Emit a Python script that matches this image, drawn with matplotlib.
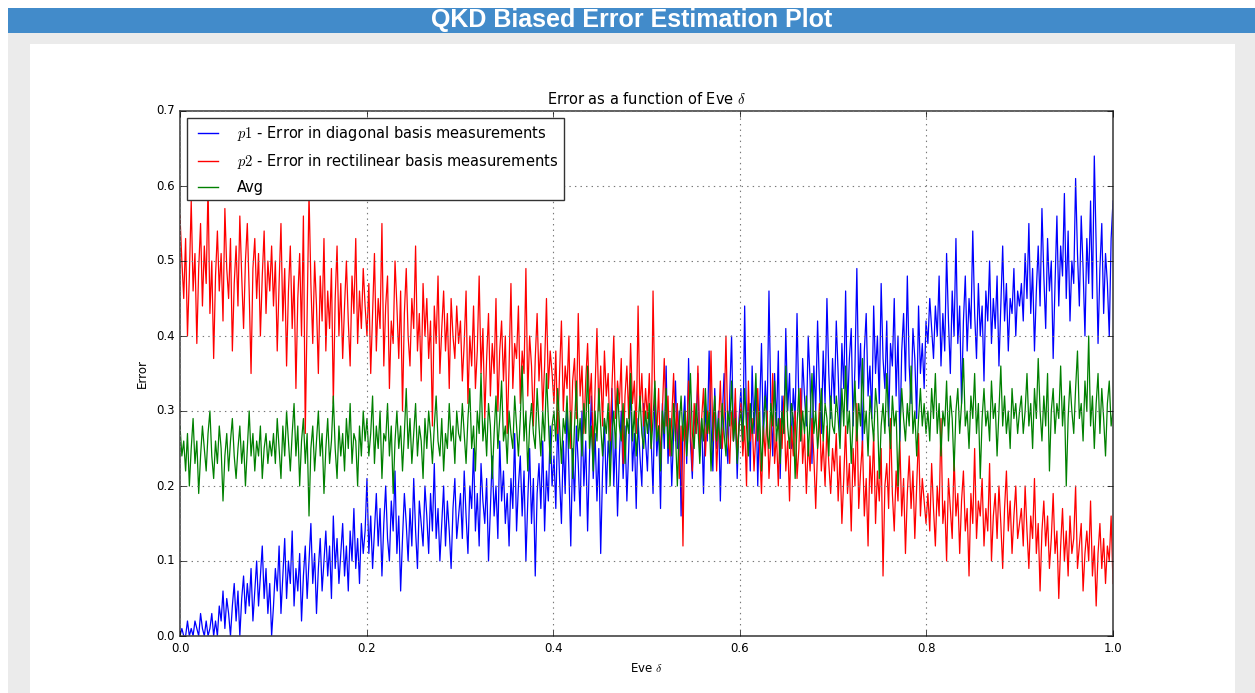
import numpy as np
import matplotlib
matplotlib.use('Agg')
import matplotlib.pyplot as plt
from matplotlib.patches import Rectangle

# Classic matplotlib look (pure b/r/g lines, ticks inside, cm mathtext)
plt.style.use('classic')
plt.rcParams['font.family'] = ['DejaVu Sans']

# Data, 50 values per 0.1 of Eve delta
p1 = [
    0.00, 0.01, 0.00, 0.00, 0.02, 0.00, 0.01, 0.00, 0.02, 0.01, 0.00, 0.03, 0.01, 0.00, 0.02, 0.00, 0.01, 0.03, 0.00, 0.02,
    0.00, 0.04, 0.02, 0.06, 0.01, 0.05, 0.03, 0.00, 0.04, 0.07, 0.02, 0.06, 0.00, 0.05, 0.08, 0.03, 0.07, 0.04, 0.09, 0.02,
    0.06, 0.10, 0.04, 0.08, 0.12, 0.05, 0.09, 0.03, 0.07, 0.00,
    0.04, 0.09, 0.06, 0.12, 0.03, 0.08, 0.13, 0.05, 0.10, 0.07, 0.14, 0.04, 0.09, 0.06, 0.11, 0.02, 0.08, 0.12, 0.05, 0.10,
    0.15, 0.07, 0.11, 0.03, 0.09, 0.13, 0.06, 0.10, 0.14, 0.08, 0.12, 0.05, 0.16, 0.09, 0.13, 0.07, 0.11, 0.15, 0.08, 0.12,
    0.06, 0.14, 0.10, 0.17, 0.09, 0.13, 0.07, 0.15, 0.11, 0.14,
    0.21, 0.11, 0.16, 0.09, 0.14, 0.19, 0.12, 0.17, 0.08, 0.15, 0.20, 0.13, 0.10, 0.18, 0.14, 0.22, 0.11, 0.16, 0.06, 0.13,
    0.19, 0.15, 0.10, 0.17, 0.12, 0.21, 0.14, 0.09, 0.18, 0.15, 0.12, 0.20, 0.16, 0.11, 0.19, 0.14, 0.23, 0.13, 0.17, 0.10,
    0.15, 0.20, 0.12, 0.18, 0.14, 0.09, 0.17, 0.21, 0.13, 0.16,
    0.19, 0.13, 0.22, 0.16, 0.11, 0.20, 0.17, 0.25, 0.14, 0.19, 0.12, 0.23, 0.18, 0.15, 0.21, 0.10, 0.17, 0.24, 0.16, 0.20,
    0.13, 0.26, 0.18, 0.22, 0.15, 0.19, 0.12, 0.21, 0.17, 0.27, 0.14, 0.20, 0.24, 0.16, 0.22, 0.10, 0.18, 0.25, 0.15, 0.21,
    0.08, 0.19, 0.23, 0.17, 0.26, 0.14, 0.22, 0.18, 0.28, 0.20,
    0.24, 0.17, 0.29, 0.21, 0.15, 0.26, 0.19, 0.31, 0.22, 0.12, 0.25, 0.18, 0.28, 0.23, 0.16, 0.30, 0.20, 0.26, 0.14, 0.24,
    0.32, 0.21, 0.27, 0.18, 0.25, 0.11, 0.22, 0.29, 0.19, 0.26, 0.23, 0.33, 0.20, 0.27, 0.16, 0.24, 0.30, 0.21, 0.28, 0.18,
    0.25, 0.34, 0.22, 0.27, 0.17, 0.29, 0.24, 0.20, 0.31, 0.26,
    0.22, 0.30, 0.26, 0.19, 0.33, 0.24, 0.28, 0.17, 0.31, 0.25, 0.36, 0.23, 0.29, 0.20, 0.27, 0.34, 0.25, 0.30, 0.16, 0.28,
    0.32, 0.23, 0.37, 0.26, 0.21, 0.30, 0.27, 0.35, 0.24, 0.29, 0.19, 0.31, 0.26, 0.38, 0.28, 0.22, 0.33, 0.25, 0.30, 0.18,
    0.29, 0.35, 0.27, 0.23, 0.32, 0.40, 0.26, 0.31, 0.21, 0.29,
    0.33, 0.25, 0.44, 0.28, 0.31, 0.22, 0.36, 0.27, 0.33, 0.20, 0.30, 0.39, 0.26, 0.34, 0.29, 0.46, 0.31, 0.24, 0.35, 0.28,
    0.38, 0.21, 0.32, 0.27, 0.41, 0.30, 0.35, 0.25, 0.33, 0.29, 0.43, 0.31, 0.26, 0.37, 0.32, 0.28, 0.40, 0.34, 0.23, 0.36,
    0.30, 0.42, 0.33, 0.27, 0.38, 0.31, 0.45, 0.35, 0.29, 0.37,
    0.31, 0.42, 0.35, 0.27, 0.39, 0.33, 0.46, 0.30, 0.37, 0.41, 0.28, 0.36, 0.49, 0.33, 0.39, 0.25, 0.38, 0.43, 0.32, 0.36,
    0.29, 0.44, 0.35, 0.40, 0.31, 0.47, 0.37, 0.33, 0.42, 0.28, 0.39, 0.36, 0.45, 0.32, 0.40, 0.26, 0.38, 0.43, 0.34, 0.48,
    0.36, 0.31, 0.41, 0.37, 0.29, 0.44, 0.35, 0.39, 0.33, 0.42,
    0.39, 0.45, 0.41, 0.37, 0.44, 0.40, 0.48, 0.36, 0.43, 0.38, 0.51, 0.42, 0.35, 0.46, 0.40, 0.53, 0.39, 0.44, 0.31, 0.42,
    0.48, 0.38, 0.45, 0.41, 0.54, 0.43, 0.37, 0.47, 0.40, 0.44, 0.34, 0.46, 0.42, 0.50, 0.39, 0.45, 0.41, 0.48, 0.36, 0.44,
    0.52, 0.42, 0.47, 0.38, 0.45, 0.43, 0.49, 0.40, 0.46, 0.44,
    0.47, 0.42, 0.51, 0.45, 0.55, 0.43, 0.49, 0.38, 0.46, 0.52, 0.44, 0.57, 0.48, 0.41, 0.53, 0.46, 0.50, 0.37, 0.47, 0.56,
    0.44, 0.52, 0.48, 0.59, 0.45, 0.54, 0.42, 0.50, 0.47, 0.61, 0.51, 0.44, 0.56, 0.49, 0.40, 0.53, 0.47, 0.58, 0.45, 0.64,
    0.52, 0.39, 0.49, 0.55, 0.43, 0.51, 0.47, 0.40, 0.53, 0.58,
]

p2 = [
    0.56, 0.50, 0.45, 0.53, 0.40, 0.48, 0.58, 0.46, 0.51, 0.39, 0.49, 0.55, 0.44, 0.52, 0.47, 0.60, 0.43, 0.50, 0.37, 0.48,
    0.54, 0.46, 0.51, 0.42, 0.57, 0.49, 0.45, 0.53, 0.38, 0.47, 0.52, 0.44, 0.56, 0.48, 0.41, 0.50, 0.55, 0.46, 0.35, 0.49,
    0.53, 0.45, 0.51, 0.40, 0.48, 0.54, 0.43, 0.50, 0.46, 0.52,
    0.44, 0.50, 0.38, 0.47, 0.55, 0.42, 0.49, 0.36, 0.46, 0.52, 0.41, 0.48, 0.33, 0.45, 0.51, 0.40, 0.56, 0.27, 0.43, 0.59,
    0.47, 0.39, 0.50, 0.44, 0.35, 0.48, 0.42, 0.53, 0.38, 0.46, 0.41, 0.49, 0.31, 0.45, 0.52, 0.40, 0.47, 0.37, 0.44, 0.50,
    0.42, 0.36, 0.48, 0.43, 0.53, 0.39, 0.46, 0.41, 0.49, 0.44,
    0.40, 0.47, 0.35, 0.43, 0.51, 0.38, 0.45, 0.41, 0.55, 0.36, 0.44, 0.48, 0.33, 0.42, 0.39, 0.50, 0.44, 0.37, 0.46, 0.30,
    0.43, 0.49, 0.40, 0.36, 0.45, 0.41, 0.52, 0.38, 0.43, 0.34, 0.47, 0.40, 0.45, 0.37, 0.42, 0.28, 0.44, 0.39, 0.48, 0.35,
    0.41, 0.46, 0.38, 0.43, 0.33, 0.45, 0.40, 0.37, 0.44, 0.39,
    0.42, 0.34, 0.39, 0.46, 0.31, 0.40, 0.36, 0.44, 0.33, 0.38, 0.48, 0.35, 0.41, 0.29, 0.37, 0.43, 0.32, 0.39, 0.35, 0.45,
    0.30, 0.38, 0.42, 0.34, 0.40, 0.27, 0.36, 0.47, 0.33, 0.39, 0.37, 0.44, 0.31, 0.38, 0.35, 0.49, 0.32, 0.40, 0.36, 0.28,
    0.37, 0.43, 0.34, 0.39, 0.30, 0.36, 0.45, 0.33, 0.38, 0.35,
    0.31, 0.38, 0.27, 0.35, 0.42, 0.30, 0.36, 0.33, 0.40, 0.25, 0.34, 0.37, 0.29, 0.43, 0.32, 0.36, 0.27, 0.34, 0.39, 0.31,
    0.35, 0.24, 0.33, 0.41, 0.30, 0.36, 0.28, 0.38, 0.32, 0.35, 0.26, 0.33, 0.40, 0.29, 0.34, 0.31, 0.37, 0.23, 0.32, 0.36,
    0.29, 0.39, 0.31, 0.34, 0.27, 0.44, 0.30, 0.35, 0.28, 0.33,
    0.29, 0.35, 0.25, 0.46, 0.31, 0.27, 0.33, 0.23, 0.30, 0.37, 0.28, 0.32, 0.24, 0.29, 0.35, 0.26, 0.31, 0.21, 0.28, 0.12,
    0.30, 0.26, 0.34, 0.28, 0.22, 0.31, 0.27, 0.36, 0.25, 0.29, 0.33, 0.24, 0.30, 0.27, 0.38, 0.26, 0.31, 0.22, 0.28, 0.34,
    0.25, 0.29, 0.40, 0.27, 0.23, 0.30, 0.26, 0.33, 0.24, 0.28,
    0.31, 0.24, 0.28, 0.20, 0.34, 0.26, 0.29, 0.22, 0.27, 0.33, 0.25, 0.19, 0.28, 0.24, 0.30, 0.21, 0.26, 0.35, 0.23, 0.27,
    0.20, 0.29, 0.25, 0.32, 0.22, 0.26, 0.18, 0.28, 0.24, 0.30, 0.21, 0.25, 0.33, 0.23, 0.27, 0.19, 0.26, 0.22, 0.29, 0.24,
    0.17, 0.25, 0.31, 0.22, 0.26, 0.20, 0.28, 0.23, 0.19, 0.25,
    0.22, 0.27, 0.18, 0.24, 0.15, 0.21, 0.28, 0.19, 0.23, 0.14, 0.25, 0.20, 0.31, 0.17, 0.22, 0.26, 0.16, 0.21, 0.12, 0.24,
    0.19, 0.27, 0.15, 0.22, 0.18, 0.25, 0.08, 0.20, 0.23, 0.17, 0.29, 0.19, 0.14, 0.22, 0.18, 0.26, 0.16, 0.21, 0.11, 0.19,
    0.24, 0.17, 0.22, 0.13, 0.20, 0.27, 0.16, 0.21, 0.18, 0.15,
    0.19, 0.14, 0.23, 0.17, 0.12, 0.20, 0.16, 0.29, 0.15, 0.18, 0.10, 0.21, 0.17, 0.13, 0.24, 0.16, 0.19, 0.11, 0.18, 0.22,
    0.14, 0.17, 0.08, 0.19, 0.15, 0.25, 0.13, 0.18, 0.16, 0.21, 0.12, 0.17, 0.14, 0.23, 0.10, 0.16, 0.19, 0.13, 0.20, 0.15,
    0.09, 0.17, 0.22, 0.14, 0.18, 0.11, 0.16, 0.20, 0.13, 0.15,
    0.17, 0.12, 0.20, 0.14, 0.09, 0.16, 0.13, 0.21, 0.11, 0.15, 0.06, 0.14, 0.18, 0.12, 0.16, 0.09, 0.13, 0.19, 0.11, 0.14,
    0.05, 0.12, 0.17, 0.10, 0.14, 0.08, 0.16, 0.11, 0.13, 0.20, 0.09, 0.12, 0.15, 0.06, 0.11, 0.14, 0.10, 0.18, 0.08, 0.12,
    0.04, 0.11, 0.15, 0.09, 0.13, 0.07, 0.12, 0.10, 0.16, 0.07,
]

avg = [
    0.28, 0.24, 0.26, 0.22, 0.27, 0.20, 0.25, 0.29, 0.23, 0.26, 0.19, 0.24, 0.28, 0.25, 0.22, 0.27, 0.30, 0.24, 0.21, 0.26,
    0.23, 0.28, 0.25, 0.18, 0.24, 0.27, 0.22, 0.26, 0.29, 0.24, 0.21, 0.25, 0.28, 0.23, 0.26, 0.20, 0.25, 0.30, 0.24, 0.27,
    0.22, 0.26, 0.24, 0.28, 0.21, 0.25, 0.27, 0.23, 0.26, 0.24,
    0.27, 0.23, 0.29, 0.25, 0.21, 0.28, 0.24, 0.30, 0.26, 0.22, 0.27, 0.31, 0.24, 0.28, 0.20, 0.26, 0.29, 0.23, 0.27, 0.16,
    0.25, 0.28, 0.22, 0.26, 0.30, 0.24, 0.27, 0.19, 0.25, 0.29, 0.23, 0.26, 0.32, 0.25, 0.21, 0.28, 0.24, 0.27, 0.22, 0.29,
    0.25, 0.31, 0.23, 0.27, 0.26, 0.20, 0.28, 0.24, 0.30, 0.26,
    0.29, 0.24, 0.27, 0.32, 0.23, 0.28, 0.25, 0.30, 0.21, 0.27, 0.26, 0.31, 0.24, 0.28, 0.19, 0.26, 0.30, 0.25, 0.28, 0.22,
    0.27, 0.33, 0.25, 0.29, 0.23, 0.27, 0.31, 0.24, 0.28, 0.26, 0.21, 0.29, 0.25, 0.30, 0.27, 0.23, 0.28, 0.32, 0.26, 0.24,
    0.29, 0.22, 0.27, 0.25, 0.31, 0.26, 0.28, 0.23, 0.30, 0.27,
    0.26, 0.31, 0.27, 0.23, 0.29, 0.33, 0.25, 0.28, 0.22, 0.30, 0.27, 0.35, 0.26, 0.29, 0.24, 0.31, 0.28, 0.21, 0.27, 0.32,
    0.25, 0.29, 0.34, 0.26, 0.28, 0.23, 0.30, 0.27, 0.25, 0.32, 0.28, 0.24, 0.29, 0.36, 0.26, 0.30, 0.22, 0.28, 0.31, 0.27,
    0.25, 0.33, 0.28, 0.24, 0.30, 0.26, 0.35, 0.29, 0.23, 0.28,
    0.30, 0.26, 0.33, 0.28, 0.23, 0.29, 0.27, 0.32, 0.25, 0.30, 0.21, 0.28, 0.34, 0.26, 0.29, 0.24, 0.31, 0.27, 0.36, 0.25,
    0.28, 0.22, 0.30, 0.26, 0.33, 0.28, 0.24, 0.29, 0.27, 0.31, 0.20, 0.27, 0.30, 0.25, 0.33, 0.28, 0.26, 0.31, 0.23, 0.29,
    0.27, 0.35, 0.26, 0.30, 0.24, 0.28, 0.32, 0.27, 0.25, 0.30,
    0.27, 0.31, 0.25, 0.29, 0.34, 0.26, 0.28, 0.22, 0.30, 0.27, 0.33, 0.25, 0.29, 0.24, 0.31, 0.27, 0.20, 0.28, 0.32, 0.26,
    0.30, 0.24, 0.28, 0.35, 0.27, 0.25, 0.31, 0.28, 0.23, 0.29, 0.26, 0.33, 0.27, 0.30, 0.22, 0.28, 0.32, 0.26, 0.29, 0.25,
    0.31, 0.27, 0.24, 0.30, 0.28, 0.34, 0.26, 0.29, 0.23, 0.28,
    0.30, 0.26, 0.33, 0.28, 0.24, 0.31, 0.27, 0.29, 0.35, 0.26, 0.30, 0.22, 0.28, 0.32, 0.27, 0.25, 0.31, 0.28, 0.34, 0.26,
    0.29, 0.23, 0.30, 0.27, 0.36, 0.28, 0.25, 0.31, 0.29, 0.21, 0.28, 0.33, 0.26, 0.30, 0.27, 0.32, 0.24, 0.29, 0.35, 0.27,
    0.30, 0.25, 0.28, 0.33, 0.26, 0.31, 0.29, 0.24, 0.32, 0.28,
    0.27, 0.32, 0.29, 0.25, 0.33, 0.28, 0.36, 0.27, 0.30, 0.23, 0.29, 0.34, 0.26, 0.31, 0.28, 0.37, 0.27, 0.30, 0.24, 0.32,
    0.29, 0.26, 0.33, 0.30, 0.21, 0.28, 0.31, 0.27, 0.35, 0.29, 0.25, 0.32, 0.28, 0.30, 0.20, 0.27, 0.33, 0.29, 0.26, 0.31,
    0.28, 0.36, 0.27, 0.30, 0.24, 0.29, 0.33, 0.28, 0.31, 0.27,
    0.30, 0.26, 0.33, 0.29, 0.35, 0.27, 0.31, 0.24, 0.30, 0.28, 0.34, 0.26, 0.32, 0.29, 0.22, 0.30, 0.33, 0.27, 0.31, 0.37,
    0.28, 0.30, 0.25, 0.32, 0.29, 0.35, 0.27, 0.31, 0.21, 0.29, 0.33, 0.28, 0.30, 0.26, 0.34, 0.29, 0.31, 0.24, 0.30, 0.36,
    0.28, 0.32, 0.27, 0.30, 0.25, 0.33, 0.29, 0.31, 0.27, 0.30,
    0.32, 0.27, 0.30, 0.35, 0.28, 0.31, 0.25, 0.33, 0.29, 0.37, 0.30, 0.26, 0.32, 0.28, 0.35, 0.22, 0.30, 0.33, 0.27, 0.31,
    0.29, 0.36, 0.28, 0.32, 0.20, 0.29, 0.34, 0.30, 0.27, 0.33, 0.38, 0.29, 0.31, 0.26, 0.34, 0.30, 0.40, 0.28, 0.32, 0.25,
    0.31, 0.35, 0.27, 0.33, 0.29, 0.24, 0.31, 0.34, 0.28, 0.30,
]

xticks = [0.0, 0.2, 0.4, 0.6, 0.8, 1.0]
yticks = [0.0, 0.1, 0.2, 0.3, 0.4, 0.5, 0.6, 0.7]

W, H = 1255, 693
fig = plt.figure(figsize=(W / 100, H / 100), dpi=100, facecolor='white')

# page chrome: blue header, grey body, white card (kept behind the axes)
fig.patches.append(Rectangle((8 / W, 1 - 33 / H), 1, 25 / H, transform=fig.transFigure,
                             facecolor='#428bca', edgecolor='none', zorder=-3))
fig.patches.append(Rectangle((8 / W, 0), 1, 1 - 33 / H, transform=fig.transFigure,
                             facecolor='#ebebeb', edgecolor='none', zorder=-3))
fig.patches.append(Rectangle((30 / W, 0), (1235 - 30) / W, 1 - 44 / H, transform=fig.transFigure,
                             facecolor='white', edgecolor='none', zorder=-2))
fig.text(632 / W, 1 - 20.5 / H, 'QKD Biased Error Estimation Plot', color='white',
         fontsize=18, fontweight='bold', family='Liberation Sans', ha='center', va='center')

ax = fig.add_axes([180 / W, 1 - 636 / H, (1113 - 180) / W, (636 - 111) / H])

ax.plot(np.linspace(0, 1, len(p1)), p1, color='b', linewidth=0.9, label=r'$p1$ - Error in diagonal basis measurements')
ax.plot(np.linspace(0, 1, len(p2)), p2, color='r', linewidth=0.9, label=r'$p2$ - Error in rectilinear basis measurements')
ax.plot(np.linspace(0, 1, len(avg)), avg, color='g', linewidth=0.9, label='Avg')

ax.set_xlim(0, 1)
ax.set_ylim(0, 0.7)
ax.set_xticks(xticks)
ax.set_yticks(yticks)
ax.tick_params(labelsize=8.5)
ax.grid(True, color='#777777', linestyle=':', linewidth=0.8)
for s in ax.spines.values():
    s.set_color('#444444')
    s.set_linewidth(1.2)

ax.set_title(r'Error as a function of Eve $\delta$', fontsize=10.5)
ax.set_xlabel(r'Eve $\delta$', fontsize=8.5)
ax.set_ylabel('Error', fontsize=8.5)

leg = ax.legend(loc='upper left', fontsize=10.5, handlelength=2.0, handletextpad=1.0,
                labelspacing=0.6, borderaxespad=0.5)
leg.get_frame().set_edgecolor('#333333')
for line in leg.get_lines():
    line.set_linewidth(1.0)

fig.savefig('out.png', dpi=100, facecolor=fig.get_facecolor())
